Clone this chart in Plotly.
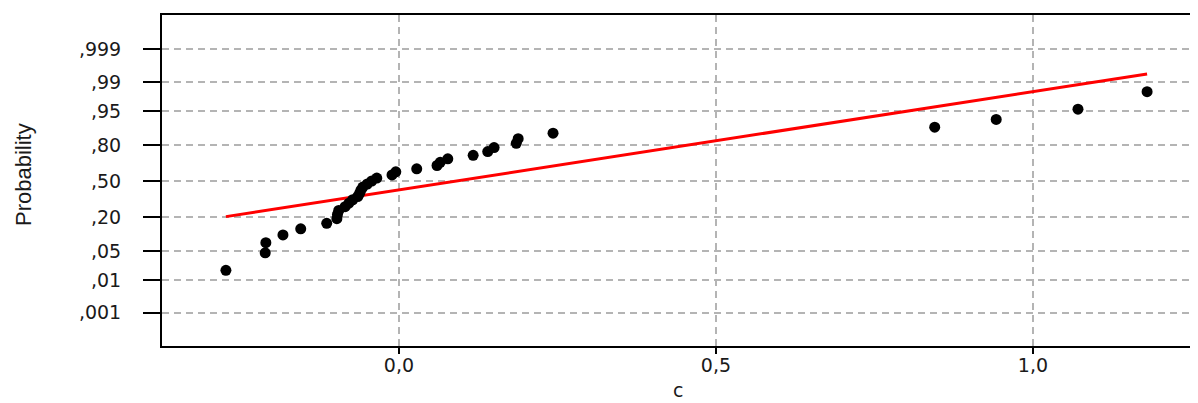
import plotly.graph_objects as go
from statistics import NormalDist

# ---- data ----
c_values = [-0.273, -0.211, -0.210, -0.183, -0.155, -0.114, -0.098, -0.097,
            -0.095, -0.085, -0.079, -0.073, -0.065, -0.062, -0.060, -0.057,
            -0.050, -0.043, -0.035, -0.011, -0.005, 0.028, 0.060, 0.065,
            0.077, 0.117, 0.140, 0.150, 0.185, 0.188, 0.243, 0.845,
            0.942, 1.071, 1.180]
probabilities = [0.018, 0.046, 0.074, 0.103, 0.131, 0.160, 0.188, 0.216,
                 0.245, 0.273, 0.301, 0.330, 0.358, 0.387, 0.415, 0.443,
                 0.472, 0.500, 0.528, 0.557, 0.585, 0.613, 0.642, 0.670,
                 0.699, 0.727, 0.755, 0.784, 0.812, 0.840, 0.869, 0.897,
                 0.926, 0.954, 0.982]
fit_mean = 0.090
fit_sd = 0.434

prob_ticks = [0.001, 0.01, 0.05, 0.20, 0.50, 0.80, 0.95, 0.99, 0.999]
prob_tick_labels = [",001", ",01", ",05", ",20", ",50", ",80", ",95", ",99", ",999"]
x_tick_vals = [0.0, 0.5, 1.0]
x_tick_labels = ["0,0", "0,5", "1,0"]

nd = NormalDist()
z_points = [nd.inv_cdf(p) for p in probabilities]
z_ticks = [nd.inv_cdf(p) for p in prob_ticks]

line_x = [min(c_values), max(c_values)]
line_z = [(v - fit_mean) / fit_sd for v in line_x]

fig = go.Figure()
fig.add_trace(go.Scatter(
    x=line_x, y=line_z, mode="lines",
    line=dict(color="#ff0000", width=3), showlegend=False, hoverinfo="skip"))
fig.add_trace(go.Scatter(
    x=c_values, y=z_points, mode="markers",
    marker=dict(color="black", size=11), showlegend=False))

tick_font = dict(family="DejaVu Sans", size=19, color="#1a1a1a")

fig.update_layout(
    width=1190, height=395,
    margin=dict(l=154, r=4, t=7, b=57),
    paper_bgcolor="white", plot_bgcolor="white",
    xaxis=dict(
        range=[-0.3738, 1.254],
        tickvals=x_tick_vals, ticktext=x_tick_labels,
        showline=True, linecolor="black", linewidth=2, mirror=True,
        ticks="outside", ticklen=6, tickwidth=2, tickcolor="black",
        showgrid=True, gridcolor="#b4b4b4", gridwidth=1.5, griddash="7px,5px",
        zeroline=False, tickfont=tick_font, ticklabelstandoff=-5,
    ),
    yaxis=dict(
        range=[-3.873, 3.897],
        tickvals=z_ticks, ticktext=prob_tick_labels,
        showline=True, linecolor="black", linewidth=2, mirror=False,
        ticks="outside", ticklen=17, tickwidth=2, tickcolor="black",
        showgrid=True, gridcolor="#b4b4b4", gridwidth=1.5, griddash="7px,5px",
        zeroline=False, tickfont=tick_font, ticklabelstandoff=18,
    ),
    annotations=[
        dict(text="Probability", xref="paper", yref="paper",
             x=(23 - 162) / 1032, y=(346 - 175) / 331, textangle=-90,
             showarrow=False, xanchor="center", yanchor="middle",
             font=dict(family="Liberation Sans", size=22, color="#1a1a1a")),
        dict(text="c", xref="paper", yref="paper",
             x=0.5, y=(346 - 390) / 331, showarrow=False,
             xanchor="center", yanchor="middle",
             font=dict(family="DejaVu Sans", size=19, color="#1a1a1a")),
    ],
)

fig.write_html("out.html")
